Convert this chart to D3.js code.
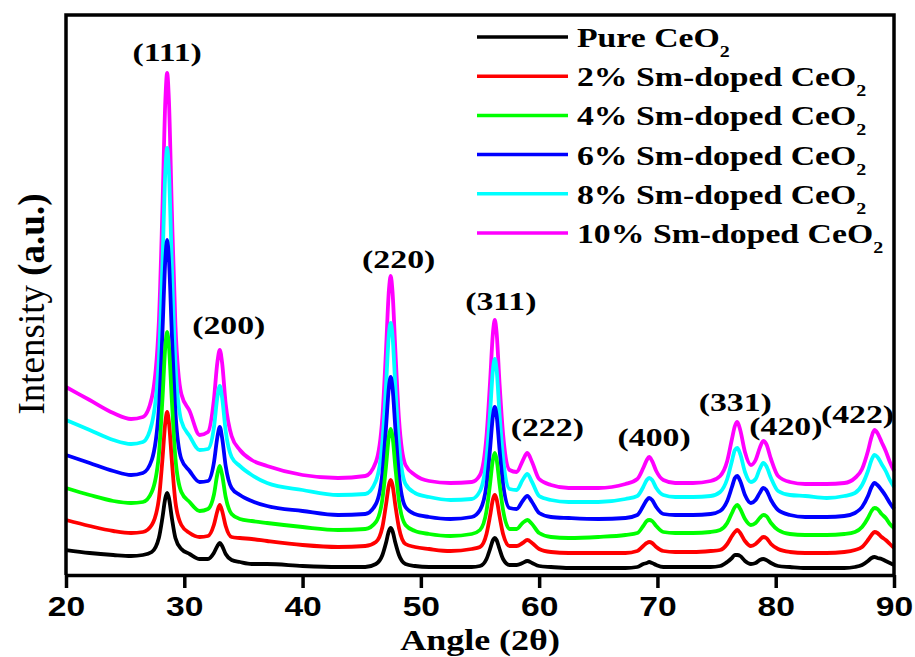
<!DOCTYPE html>
<html>
<head>
<meta charset="utf-8">
<script src="https://cdn.jsdelivr.net/npm/d3@7"></script>
<style>
body{margin:0;background:#fff}
svg text{font-family:"Liberation Serif","Times New Roman",serif;font-weight:bold;fill:#000}
</style>
</head>
<body>
<svg width="915" height="657"></svg>
<script>
// 2theta grid (denser around the reflections)
const angle = [20,22,24,25.5,26.5,
  27.25,27.85,28.15,28.4,28.55,28.7,28.95,29.25,29.75,30.45,
  31.3,32,32.5,32.8,33,33.2,33.5,34,34.7,35.7,
  37,40,43,45.3,
  46.2,46.75,47.05,47.3,47.45,47.6,47.85,48.15,48.7,49.5,50.7,
  52.5,54.3,
  55,55.55,55.85,56.1,56.25,56.4,56.65,56.95,57.5,58.1,58.6,59,59.4,60,61,62.5,
  65,
  67.3,68.3,68.8,69.1,69.3,69.55,69.9,70.5,71.5,
  73,74.5,
  75.3,75.9,76.3,76.55,76.75,77,77.4,77.9,78.3,78.65,78.95,79.2,79.6,80.2,81.2,82.5,
  84.3,85.8,86.7,87.3,87.8,88.1,88.35,88.6,88.95,89.3,89.65,90]

// stacked intensities (a.u.)
const pure = [25,22,20,19,20,
  23,37,57,77,82,77,57,37,26,21,
  16,16,22,29,32,29,21,15,13,11,
  11,9,8,8,
  11,20,32,44,47,44,32,20,11,9,8,
  8,8,
  9,16,26,35,37,35,26,16,10,10,12,14,12,9,8,7,
  7,
  7,8,11,12,13,12,10,8,8,
  8,8,
  9,13,17,20,20,19,14,11,12,15,16,15,12,9,8,7,
  7,7,8,10,14,17,18,17,16,14,12,10]
const sm2 = [55,49,44,42,43,
  50,76,115,153,163,153,114,73,50,42,
  38,39,50,64,70,64,49,38,37,36,
  34,30,28,29,
  33,48,70,90,95,90,69,47,31,28,26,
  24,26,
  28,41,59,76,80,76,59,41,29,29,32,35,32,26,23,22,
  22,
  22,24,29,32,33,32,28,24,23,
  23,24,
  25,31,39,43,45,42,34,29,31,35,38,37,31,26,23,22,
  22,23,25,28,35,40,43,42,38,35,31,27]
const sm4 = [87,80,74,72,73,
  83,120,175,229,243,229,174,117,83,73,
  64,66,80,101,109,100,78,61,56,54,
  52,48,45,46,
  53,76,108,139,146,139,107,74,50,44,41,
  39,41,
  45,64,91,116,122,116,91,65,46,46,52,55,51,42,38,37,
  38,
  40,42,49,54,55,54,49,43,42,
  42,43,
  45,52,62,68,70,66,56,50,52,57,60,59,52,45,41,40,
  40,41,43,48,57,64,67,66,61,57,51,47]
const sm6 = [120,112,104,100,102,
  115,166,242,316,335,316,241,163,116,104,
  93,94,112,138,148,137,109,87,80,74,
  69,64,60,61,
  71,102,147,188,198,188,146,100,68,61,58,
  56,58,
  65,90,126,160,168,160,126,91,67,66,74,79,73,62,58,57,
  56,
  57,60,69,75,77,75,68,61,60,
  60,61,
  64,74,88,97,99,94,80,72,75,82,87,85,75,65,60,58,
  58,59,62,68,79,88,92,90,85,79,72,66]
const sm8 = [155,145,135,131,133,
  151,215,310,404,427,404,309,212,154,139,
  125,126,147,178,189,177,144,118,109,100,
  92,85,80,81,
  94,133,188,241,252,240,187,131,91,82,78,
  75,76,
  84,116,162,206,216,206,161,117,86,85,95,101,93,79,75,73,
  73,
  76,79,88,95,97,95,87,80,78,
  78,79,
  83,96,114,125,127,121,103,93,96,106,112,109,97,84,80,79,
  77,79,82,90,104,115,120,118,111,104,95,88]
const sm10 = [188,175,162,156,158,
  177,253,365,475,502,475,364,250,181,164,
  140,143,175,213,225,212,171,139,125,115,
  109,100,97,99,
  113,158,224,285,299,284,223,156,110,100,94,
  92,93,
  100,139,193,243,255,243,192,141,105,103,114,122,113,96,90,87,
  87,
  91,96,107,115,118,114,104,95,92,
  92,94,
  99,114,136,149,153,145,123,110,115,127,134,131,116,99,93,91,
  91,92,97,106,124,138,145,142,133,124,113,104]

const names = ['Pure CeO','2% Sm-doped CeO','4% Sm-doped CeO','6% Sm-doped CeO','8% Sm-doped CeO','10% Sm-doped CeO']
const colors = ['#000000','#ff0000','#00ff00','#0000ff','#00ffff','#ff00ff']
const values = [pure,sm2,sm4,sm6,sm8,sm10]

const hkl = ['(111)','(200)','(220)','(311)','(222)','(400)','(331)','(420)','(422)']
const peakPos = [28.55,33.0,47.45,56.25,59.0,69.3,76.75,79.0,88.35]
// label nudges [dx, dy] relative to the top of the highest pattern
const nudge = [[0,-12],[9,-16],[8,-8],[6,-10],[20,-17],[5,-11],[-2,-11],[22,-6],[-17,-7]]

const xTicks = [20,30,40,50,60,70,80,90]

const svg = d3.select('svg')
const sx = 1.2   // text in the figure is a bit wide

const x = d3.scaleLinear().domain([20,90]).range([66,894])
const y = d3.scaleLinear().domain([0,560]).range([575,15])

const line = d3.line()
  .x((d,i) => x(angle[i]))
  .y(d => y(d))
  .curve(d3.curveMonotoneX)

const plot = svg.append('g')
values.slice().reverse().forEach((v,k) => {
  const i = values.length-1-k
  plot.append('path')
    .attr('d',line(v))
    .attr('fill','none')
    .attr('stroke',colors[i])
    .attr('stroke-width',3.8)
    .attr('stroke-linejoin','round')
})

// frame
svg.append('path')
  .attr('d',`M${x(20)},575V15H${x(90)}V575`)
  .attr('fill','none')
  .attr('stroke','#000')
  .attr('stroke-width',3.5)

const xAxis = svg.append('g')
  .attr('transform','translate(0,575)')
  .call(d3.axisBottom(x).tickValues(xTicks).tickFormat(d3.format('d')).tickSize(13).tickSizeOuter(0).tickPadding(8))
xAxis.select('.domain').attr('stroke-width',3.5)
xAxis.selectAll('.tick line').attr('stroke-width',3.5)
xAxis.selectAll('.tick text')
  .style('font-family','"Liberation Sans",Arial,sans-serif')
  .attr('font-size',28)
  .attr('transform',`scale(${sx},1)`)

// peak labels
const nearest = a => d3.minIndex(angle, t => Math.abs(t-a))
hkl.forEach((h,i) => {
  const j = nearest(peakPos[i])
  const top = d3.max(values, v => v[j])
  svg.append('g')
    .attr('transform',`translate(${x(peakPos[i])+nudge[i][0]},${y(top)+nudge[i][1]}) scale(1.3,1)`)
    .append('text')
    .attr('text-anchor','middle')
    .attr('font-size',26)
    .text(h)
})

// legend
const legend = svg.append('g').attr('transform','translate(477,37)')
names.forEach((n,i) => {
  const row = legend.append('g').attr('transform',`translate(0,${i*39.2})`)
  row.append('line')
    .attr('x1',0).attr('x2',91)
    .attr('stroke',colors[i]).attr('stroke-width',3.5)
  const t = row.append('g').attr('transform',`translate(100,10) scale(1.25,1)`)
    .append('text').attr('font-size',27)
  t.append('tspan').text(n)
  t.append('tspan').attr('font-size',16).attr('dy',10).text('2')
})

// axis titles
svg.append('g')
  .attr('transform',`translate(${(x(20)+x(90))/2},650) scale(${sx},1)`)
  .append('text')
  .attr('text-anchor','middle')
  .attr('font-size',30)
  .text('Angle (2θ)')

const yt = svg.append('g')
  .attr('transform','translate(44,304) rotate(-90)')
  .append('text')
  .attr('text-anchor','middle')
  .attr('font-size',37)
yt.append('tspan').attr('font-weight','normal').text('Intensity ')
yt.append('tspan').text('(a.u.)')
</script>
</body>
</html>
